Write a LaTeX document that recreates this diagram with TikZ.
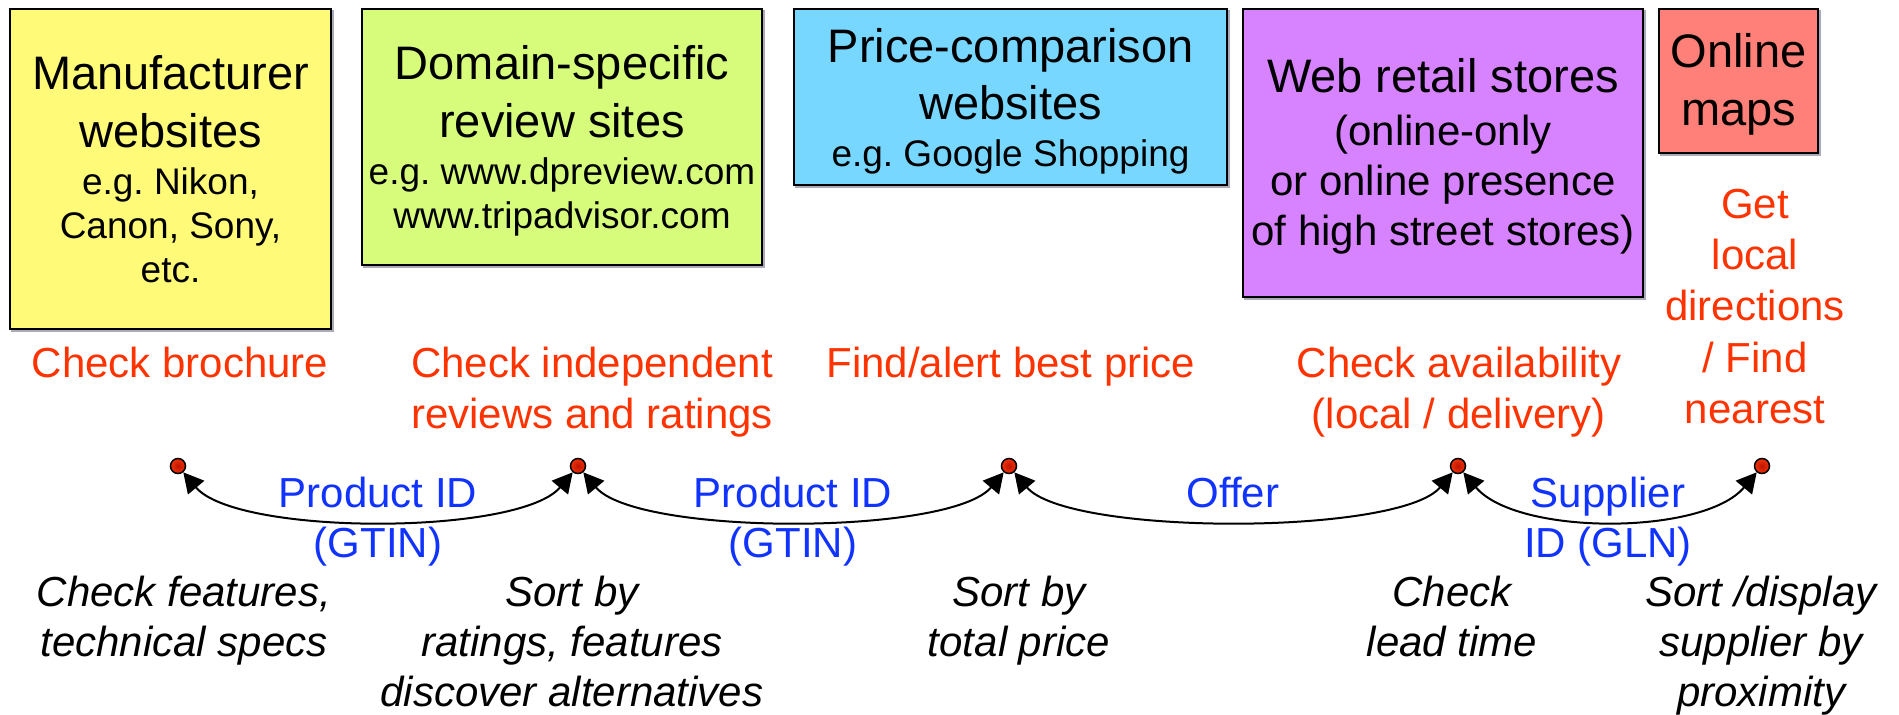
\documentclass[tikz,border=0pt]{standalone}
\usepackage{fontspec}
\setmainfont{Liberation Sans}
\frenchspacing
\usetikzlibrary{arrows.meta}
\definecolor{cyel}{RGB}{255,250,120}
\definecolor{cgrn}{RGB}{215,252,124}
\definecolor{ccya}{RGB}{120,215,255}
\definecolor{cvio}{RGB}{215,131,255}
\definecolor{csal}{RGB}{255,128,120}
\definecolor{cred}{RGB}{255,51,0}
\definecolor{cblu}{RGB}{17,51,255}
\definecolor{dotin}{RGB}{190,20,0}
\definecolor{dotout}{RGB}{240,50,10}
\definecolor{shad}{RGB}{170,170,185}
\begin{document}
\begin{tikzpicture}[x=1pt,y=1pt,
  box/.style={draw=black, line width=2pt, rectangle, inner sep=0pt},
  shd/.style={fill=shad, rectangle, inner sep=0pt, draw=none},
  ttl/.style={font=\fontsize{47}{56}\selectfont, anchor=base, inner sep=0pt},
  subA/.style={font=\fontsize{37}{44}\selectfont, anchor=base, inner sep=0pt},
  subB/.style={font=\fontsize{42}{50}\selectfont, anchor=base, inner sep=0pt},
  redl/.style={font=\fontsize{42}{50}\selectfont, text=cred, anchor=base, inner sep=0pt},
  blul/.style={font=\fontsize{42}{50}\selectfont, text=cblu, anchor=base, inner sep=0pt},
  itl/.style={font=\fontsize{42}{50}\selectfont\itshape, anchor=base, inner sep=0pt},
  dot/.style={circle, minimum size=15pt, inner sep=0pt, draw=black, line width=1.5pt, inner color=dotin, outer color=dotout},
  conn/.style={line width=2pt, {Triangle[length=20pt,width=21pt]}-{Triangle[length=20pt,width=21pt]}}
]
\useasboundingbox (0,0) rectangle (1899,-715);
\fill[white] (0,0) rectangle (1899,-715);

% box shadows
\node[shd, minimum width=323pt, minimum height=322pt] (s1) at (172.5,-171) {};
\node[shd, minimum width=402pt, minimum height=258pt] (s2) at (564,-139) {};
\node[shd, minimum width=435pt, minimum height=178pt] (s3) at (1012.5,-99) {};
\node[shd, minimum width=402pt, minimum height=290pt] (s4) at (1445,-155) {};
\node[shd, minimum width=161pt, minimum height=146pt] (s5) at (1740.5,-83) {};

% boxes
\node[box, fill=cyel, minimum width=321pt, minimum height=320pt] (b1) at (170.5,-169) {};
\node[box, fill=cgrn, minimum width=400pt, minimum height=256pt] (b2) at (562,-137) {};
\node[box, fill=ccya, minimum width=433pt, minimum height=176pt] (b3) at (1010.5,-97) {};
\node[box, fill=cvio, minimum width=400pt, minimum height=288pt] (b4) at (1443,-153) {};
\node[box, fill=csal, minimum width=159pt, minimum height=144pt] (b5) at (1738.5,-81) {};

% box texts
\node[ttl] (b1a) at (170.5,-89) {Manufacturer};
\node[ttl] (b1b) at (170.5,-147) {websites};
\node[subA] (b1c) at (170.5,-194) {e.g. Nikon,};
\node[subA] (b1d) at (170.5,-238) {Canon, Sony,};
\node[subA] (b1e) at (170.5,-282) {etc.};

\node[ttl] (b2a) at (562,-79) {Domain-specific};
\node[ttl] (b2b) at (562,-137) {review sites};
\node[subA] (b2c) at (562,-184) {e.g. www.dpreview.com};
\node[subA] (b2d) at (562,-228) {www.tripadvisor.com};

\node[ttl] (b3a) at (1010.5,-62) {Price-comparison};
\node[ttl] (b3b) at (1010.5,-119) {websites};
\node[subA] (b3c) at (1010.5,-166) {e.g. Google Shopping};

\node[ttl] (b4a) at (1443,-92) {Web retail stores};
\node[subB] (b4b) at (1443,-145) {(online-only};
\node[subB] (b4c) at (1443,-195) {or online presence};
\node[subB] (b4d) at (1443,-245) {of high street stores)};

\node[ttl] (b5a) at (1738.5,-67) {Online};
\node[ttl] (b5b) at (1738.5,-125) {maps};

% red labels
\node[redl] (r1) at (180,-377) {Check brochure};
\node[redl] (r2a) at (592,-377) {Check independent};
\node[redl] (r2b) at (592,-428) {reviews and ratings};
\node[redl] (r3) at (1011,-377) {Find/alert best price};
\node[redl] (r4a) at (1459,-377) {Check availability};
\node[redl] (r4b) at (1459,-428) {(local / delivery)};
\node[redl] (r5a) at (1755,-218) {Get};
\node[redl] (r5b) at (1755,-269) {local};
\node[redl] (r5c) at (1755,-320) {directions};
\node[redl] (r5d) at (1755,-372) {/ Find};
\node[redl] (r5e) at (1755,-423) {nearest};

% dots
\node[dot] (d1) at (178,-466) {};
\node[dot] (d2) at (578,-466) {};
\node[dot] (d3) at (1009,-466) {};
\node[dot] (d4) at (1458,-466) {};
\node[dot] (d5) at (1762,-466) {};

% connectors
\draw[conn, looseness=0.546] (d1) to[out=-50,in=-130] (d2);
\draw[conn, looseness=0.506] (d2) to[out=-50,in=-130] (d3);
\draw[conn, looseness=0.485] (d3) to[out=-50,in=-130] (d4);
\draw[conn, looseness=0.724] (d4) to[out=-50,in=-130] (d5);

% blue labels
\node[blul] (l1a) at (378,-507) {Product ID};
\node[blul] (l1b) at (378,-557) {(GTIN)};
\node[blul] (l2a) at (793,-507) {Product ID};
\node[blul] (l2b) at (793,-557) {(GTIN)};
\node[blul] (l3) at (1233,-507) {Offer};
\node[blul] (l4a) at (1608,-507) {Supplier};
\node[blul] (l4b) at (1608,-557) {ID (GLN)};

% italic labels
\node[itl] (i1a) at (184,-606) {Check features,};
\node[itl] (i1b) at (184,-656) {technical specs};
\node[itl] (i2a) at (572,-606) {Sort by};
\node[itl] (i2b) at (572,-656) {ratings, features};
\node[itl] (i2c) at (572,-706) {discover alternatives};
\node[itl] (i3a) at (1019,-606) {Sort by};
\node[itl] (i3b) at (1019,-656) {total price};
\node[itl] (i4a) at (1452,-606) {Check};
\node[itl] (i4b) at (1452,-656) {lead time};
\node[itl] (i5a) at (1761,-606) {Sort /display};
\node[itl] (i5b) at (1761,-656) {supplier by};
\node[itl] (i5c) at (1761,-706) {proximity};
\end{tikzpicture}
\end{document}
